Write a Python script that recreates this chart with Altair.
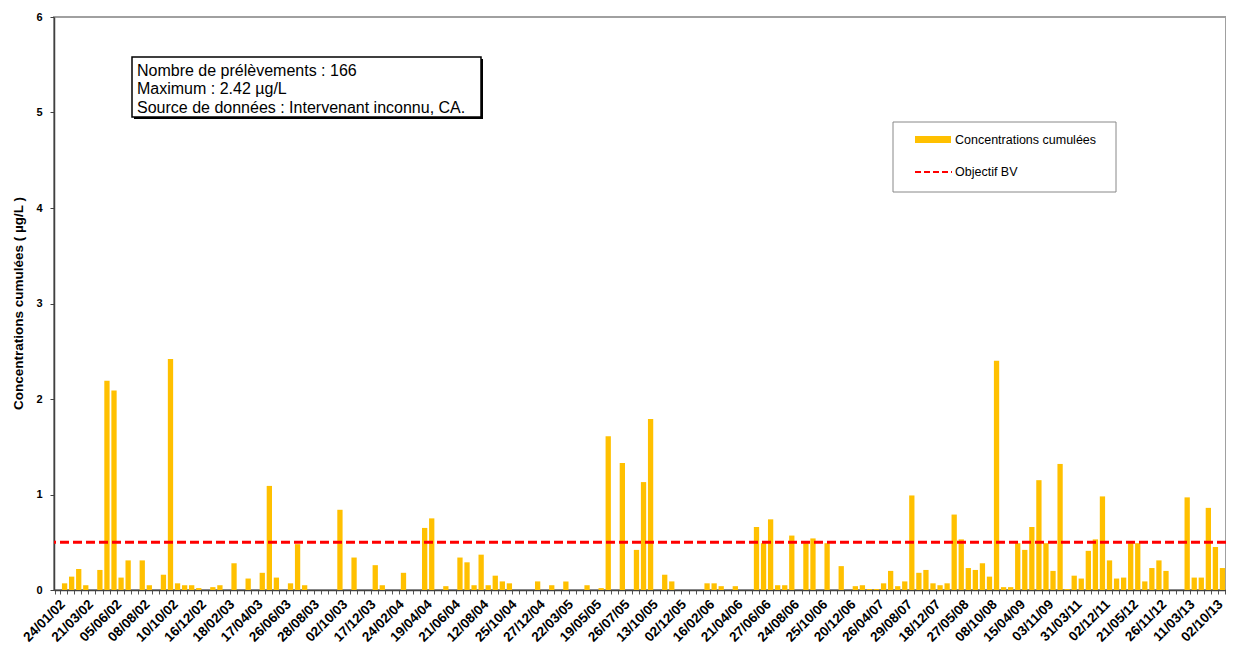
import altair as alt
import pandas as pd

# ---- data (one value per sample, in order) ----
values = [
    0, 0.07, 0.14, 0.22, 0.05, 0, 0.21, 2.19, 2.09, 0.13,
    0.31, 0, 0.31, 0.05, 0, 0.16, 2.42, 0.07, 0.05, 0.05,
    0.02, 0, 0.03, 0.05, 0, 0.28, 0, 0.12, 0, 0.18,
    1.09, 0.13, 0, 0.07, 0.48, 0.05, 0, 0, 0, 0,
    0.84, 0, 0.34, 0, 0, 0.26, 0.05, 0, 0, 0.18,
    0, 0, 0.65, 0.75, 0, 0.04, 0, 0.34, 0.29, 0.05,
    0.37, 0.05, 0.15, 0.09, 0.07, 0, 0, 0, 0.09, 0,
    0.05, 0, 0.09, 0, 0, 0.05, 0, 0.02, 1.61, 0,
    1.33, 0, 0.42, 1.13, 1.79, 0, 0.16, 0.09, 0, 0,
    0, 0, 0.07, 0.07, 0.04, 0, 0.04, 0, 0, 0.66,
    0.49, 0.74, 0.05, 0.05, 0.57, 0, 0.50, 0.54, 0, 0.49,
    0, 0.25, 0, 0.04, 0.05, 0.01, 0.01, 0.07, 0.20, 0.04,
    0.09, 0.99, 0.18, 0.21, 0.07, 0.05, 0.07, 0.79, 0.53, 0.23,
    0.21, 0.28, 0.14, 2.40, 0.03, 0.03, 0.49, 0.42, 0.66, 1.15,
    0.49, 0.20, 1.32, 0.01, 0.15, 0.12, 0.41, 0.53, 0.98, 0.31,
    0.12, 0.13, 0.49, 0.49, 0.09, 0.23, 0.31, 0.20, 0, 0,
    0.97, 0.13, 0.13, 0.86, 0.45, 0.23,
]

tick_labels = [
    "24/01/02", "21/03/02", "05/06/02", "08/08/02", "10/10/02", "16/12/02",
    "18/02/03", "17/04/03", "26/06/03", "28/08/03", "02/10/03", "17/12/03",
    "24/02/04", "19/04/04", "21/06/04", "12/08/04", "25/10/04", "27/12/04",
    "22/03/05", "19/05/05", "26/07/05", "13/10/05", "02/12/05", "16/02/06",
    "21/04/06", "27/06/06", "24/08/06", "25/10/06", "20/12/06", "26/04/07",
    "29/08/07", "18/12/07", "27/05/08", "08/10/08", "15/04/09", "03/11/09",
    "31/03/11", "02/12/11", "21/05/12", "26/11/12", "11/03/13", "02/10/13",
]

objective = [0.5]
y_ticks = [0, 1, 2, 3, 4, 5, 6]

series_name = "Concentrations cumulées"
objective_name = "Objectif BV"
source = "Intervenant inconnu, CA."

FONT = "Liberation Sans"
BAR = "#FFC000"

n = len(values)
df = pd.DataFrame({"idx": list(range(n)), "value": values})
df_obj = pd.DataFrame({"obj": objective})
one = pd.DataFrame({"a": [0]})

label_array = "[" + ",".join("'" + s + "'" for s in tick_labels) + "]"
label_expr = "datum.value % 4 == 0 ? " + label_array + "[datum.value / 4] : ''"

bars = alt.Chart(df).mark_bar(color=BAR).encode(
    x=alt.X(
        "idx:O",
        scale=alt.Scale(paddingInner=0.25, paddingOuter=0.125),
        axis=alt.Axis(
            title=None,
            labelExpr=label_expr,
            labelAngle=315,
            labelAlign="right",
            labelBaseline="top",
            labelOverlap=False,
            labelFont=FONT,
            labelFontSize=13.5,
            labelFontWeight="bold",
            labelColor="#000000",
            labelPadding=3,
            tickBand="extent",
            tickSize=4,
            tickColor="#555555",
            domainColor="#404040",
            domainWidth=1.5,
        ),
    ),
    y=alt.Y(
        "value:Q",
        scale=alt.Scale(domain=[0, 6], nice=False),
        axis=alt.Axis(
            title="Concentrations cumulées ( µg/L )",
            values=y_ticks,
            format="d",
            grid=False,
            tickSize=4,
            tickColor="#404040",
            domainColor="#404040",
            domainWidth=1.5,
            labelFont=FONT,
            labelFontSize=11,
            labelFontWeight="bold",
            labelColor="#000000",
            labelPadding=8,
            titleFont=FONT,
            titleFontSize=13.5,
            titleFontWeight="bold",
            titleColor="#000000",
            titleAngle=270,
            titleX=-36,
            titleY=286,
            titleAlign="center",
            titleBaseline="middle",
        ),
    ),
)

rule = alt.Chart(df_obj).mark_rule(
    color="#FF0000", strokeDash=[9, 4], strokeWidth=3
).encode(y="obj:Q")

# info box
box_shadow = alt.Chart(one).mark_rect(color="#000000").encode(
    x=alt.value(80), x2=alt.value(429), y=alt.value(42), y2=alt.value(102)
)
box = alt.Chart(one).mark_rect(fill="#FFFFFF", stroke="#000000", strokeWidth=1.5).encode(
    x=alt.value(78), x2=alt.value(427), y=alt.value(40), y2=alt.value(100)
)
info_lines = [
    f"Nombre de prélèvements : {n}",
    f"Maximum : {max(values):.2f} µg/L",
    f"Source de données : {source}",
]
info_y = [53.5, 72, 90.5]
info_layers = [
    alt.Chart(one).mark_text(
        text=t, align="left", baseline="middle", font=FONT, fontSize=16, color="#000000"
    ).encode(x=alt.value(83), y=alt.value(yy))
    for t, yy in zip(info_lines, info_y)
]

# legend box
leg_box = alt.Chart(one).mark_rect(fill="#FFFFFF", stroke="#888888", strokeWidth=1).encode(
    x=alt.value(839), x2=alt.value(1062), y=alt.value(105), y2=alt.value(175)
)
leg_swatch = alt.Chart(one).mark_rect(color=BAR).encode(
    x=alt.value(861), x2=alt.value(897), y=alt.value(119), y2=alt.value(126)
)
leg_line = alt.Chart(one).mark_rule(color="#FF0000", strokeDash=[6, 3], strokeWidth=2).encode(
    x=alt.value(861), x2=alt.value(898), y=alt.value(155)
)
leg_t1 = alt.Chart(one).mark_text(
    text=series_name, align="left", baseline="middle", font=FONT, fontSize=12.5, color="#000000"
).encode(x=alt.value(901), y=alt.value(122.5))
leg_t2 = alt.Chart(one).mark_text(
    text=objective_name, align="left", baseline="middle", font=FONT, fontSize=12.5, color="#000000"
).encode(x=alt.value(901), y=alt.value(155))

chart = alt.layer(
    bars, rule, box_shadow, box, *info_layers, leg_box, leg_swatch, leg_line, leg_t1, leg_t2
).properties(
    width=1172,
    height=573,
    autosize=alt.AutoSizeParams(type="none"),
    padding={"left": 46, "top": 9, "right": 0, "bottom": 55},
    background="#FFFFFF",
).configure_view(
    stroke="#A0A0A0", strokeWidth=2
)

chart.save("out.html", embed_options={"renderer": "svg", "actions": False})
